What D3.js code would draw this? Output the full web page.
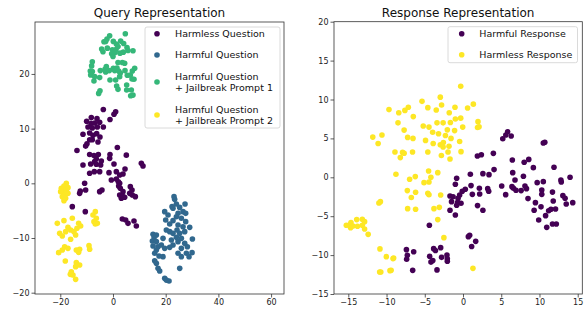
<!DOCTYPE html>
<html><head><meta charset="utf-8">
<script src="https://cdn.jsdelivr.net/npm/d3@7"></script>
<style>body{margin:0;background:#fff}svg{display:block}text{font-family:"DejaVu Sans",sans-serif}</style>
</head><body><svg id="c" width="585" height="309"></svg>
<script>
// ---------- Query Representation data ----------
const qHarmless = [[-3.67,13.5],[1.01,13.07],[0.38,12.64],[-8.23,12.02],[-6.08,11.84],[-10,11.35],[-8.35,10.92],[-6.96,11.04],[-5.06,11.17],[-1.14,11.66],[-9.49,10.31],[-7.85,10.12],[-5.95,10.31],[-3.67,10.31],[-11.39,8.96],[-8.86,9.2],[-7.59,8.77],[-6.2,9.08],[-4.94,8.47],[-7.85,7.98],[-5.7,7.55],[-9.87,7.24],[-8.86,7.98],[-10.38,6.81],[1.65,6.56],[-13.67,6.01],[-8.86,5.28],[-7.22,5.09],[-5.57,5.28],[-1.14,5.28],[5.06,5.15],[-6.33,4.48],[-11.39,3.35],[-8.48,3.54],[-6.96,3.96],[-6.33,3.48],[-4.43,4.09],[-4.68,3.35],[-1.27,4.57],[0.38,3.54],[4.56,2.62],[10.76,3.66],[11.39,3.17],[-8.86,1.83],[-7.09,2.13],[-5.06,2.13],[-1.52,1.95],[1.27,2.13],[2.53,1.52],[3.8,1.71],[-0.63,0.61],[1.27,0.79],[2.03,0.3],[2.53,0],[2.15,-0.49],[-10.76,0],[-10.38,-1.22],[-12.41,-1.4],[-12.66,-1.83],[-5.06,-1.52],[-4.18,-1.22],[2.78,-0.91],[3.8,-1.52],[6.58,-0.61],[7.22,-1.22],[6.33,-1.83],[7.34,-2.13],[8.48,-2.44],[2.53,-2.13],[3.16,-2.74],[3.8,-2.44],[4.43,-2.56],[-15.44,-4.27],[-10.51,-5.18],[3.54,-6.52],[4.81,-6.71],[5.7,-7.32],[7.97,-6.89],[8.86,-7.8]];
const qHarmful = [[23.16,-2.44],[23.4,-2.9],[27.34,-3.78],[24.05,-3.78],[22.41,-4.27],[25.3,-4.4],[19.62,-5.18],[20.89,-5.79],[26.58,-5.18],[27.59,-5.49],[24.7,-5.49],[24.05,-6.1],[20,-6.71],[22.78,-6.83],[25.95,-6.4],[27.59,-7.01],[21.52,-7.44],[24.68,-7.62],[26.58,-7.93],[29.11,-8.05],[24.3,-8.54],[21.52,-8.84],[22.78,-9.15],[25.3,-9.15],[27.22,-8.84],[15.19,-9.33],[16.46,-9.45],[15.6,-9.9],[24.05,-9.88],[25.95,-10.06],[30.13,-10.18],[18.99,-10.06],[22.15,-10.37],[14.94,-10.55],[16.46,-10.67],[24.68,-10.67],[27.22,-10.98],[15.19,-11.46],[17.09,-11.59],[18.35,-11.28],[19.62,-11.89],[22.78,-11.28],[21.52,-11.71],[28.23,-11.59],[16.46,-12.2],[25.95,-11.89],[30,-12.68],[27.85,-12.8],[24.68,-12.8],[25.95,-13.41],[15.82,-12.8],[18.99,-13.41],[17.47,-13.29],[28.86,-13.41],[15.82,-14.15],[16.46,-14.63],[25.32,-15.55],[17.09,-15.55],[17.72,-16.04],[19.62,-17.38],[21.27,-17.87],[20.25,-17.7],[22.78,-4.57],[20.25,-8.54]];
const qJailbreak1 = [[4.68,27.36],[-1.27,26.99],[-2.28,26.38],[-3.42,25.89],[-2.78,25.95],[0.13,25.95],[1.27,25.46],[2.91,26.01],[4.05,25.58],[-4.3,24.54],[-3.8,24.05],[-2.15,24.72],[-0.25,24.42],[1.14,24.48],[1.9,25.03],[5.32,24.85],[5.7,24.29],[7.59,24.23],[-0.51,23.68],[0.76,23.93],[2.66,23.8],[3.92,23.99],[0,23.19],[3.54,22.09],[4.43,21.96],[1.9,22.09],[-7.85,22.21],[-8.1,21.47],[-8.61,20.55],[-8.48,19.82],[-7.85,20.43],[-6.96,19.51],[-5.06,19.33],[-4.81,20.61],[-3.04,20.86],[-2.53,21.35],[-2.78,20.37],[-1.39,20.61],[0.13,21.04],[0.63,20.61],[1.52,21.1],[2.15,20.55],[2.78,20.18],[4.56,20.61],[7.34,20.55],[8.23,21.04],[6.58,19.82],[7.22,19.08],[7.97,19.02],[5.44,19.75],[2.53,19.51],[-1.14,18.9],[1.01,18.9],[1.39,17.79],[1.9,17.18],[5.19,17.98],[5.19,17.06],[6.96,17.06],[7.59,16.13],[6.71,16.01],[-4.94,16.93],[-5.44,16.44],[-7.22,18.71]];
const qJailbreak2 = [[-17.72,0],[-18.61,-0.49],[-19.62,-0.91],[-19.87,-1.52],[-18.99,-1.52],[-17.72,-1.22],[-17.09,-0.79],[-18.35,-2.13],[-19.24,-2.44],[-17.97,-2.74],[-18.61,-3.17],[-17.09,-1.83],[-6.71,-5.18],[-7.59,-5.79],[-6.33,-6.4],[-7.22,-7.01],[-5.95,-7.32],[-6.71,-7.44],[-21.14,-7.32],[-18.61,-6.83],[-15.44,-6.4],[-13.04,-7.32],[-12.28,-7.8],[-13.67,-8.23],[-17.09,-8.05],[-16.08,-8.54],[-17.97,-8.84],[-20.25,-9.15],[-19.24,-9.63],[-14.81,-8.84],[-14.18,-9.45],[-16.08,-10.24],[-18.35,-11.59],[-17.09,-11.89],[-19.24,-12.2],[-20.63,-12.68],[-13.92,-12.2],[-13.04,-12.62],[-12.66,-12.07],[-9.11,-11.4],[-8.86,-12.07],[-18.1,-14.21],[-13.92,-14.51],[-12.66,-14.94],[-14.18,-15.24],[-15.82,-16.16],[-15.19,-16.77],[-14.18,-17.56],[-16.2,-16.65]];

// ---------- Response Representation data ----------
const rHarmful = [[5.84,5.86],[5.6,5.43],[6.3,5.3],[5.2,4.96],[10.7,4.5],[10.5,4.4],[1.88,2.74],[2.4,2.9],[3.97,3.08],[6.45,2.23],[8,1.93],[8.6,2.3],[11.9,1.29],[-0.83,-0.13],[0.96,0.39],[2.6,0.47],[3.4,0.34],[4.06,0.99],[6.5,0.6],[6.8,-0.34],[7.9,0.13],[9.2,1.24],[14,0],[-1,-0.9],[-0.1,-1.8],[0.3,-1.54],[1.05,-1.07],[2.14,-1.41],[5.06,-1.11],[6.4,-1.2],[6.6,-1.4],[6.93,-1.67],[7.6,-1.71],[8.1,-1.11],[8.3,-1.46],[9.7,-0.69],[10.5,-0.56],[10.3,-1.63],[10.3,-2.19],[11.7,-1.9],[12.8,-0.34],[12.85,-0.6],[-1.7,-2.4],[-1.3,-2.5],[-0.44,-2.27],[-0.65,-2.7],[1.22,-2.19],[2.18,-2.14],[3.23,-1.46],[3.36,-1.8],[5.58,-2.23],[8.5,-2.74],[9.47,-3.26],[11.8,-3.04],[13.06,-2.36],[13.35,-2.7],[13.5,-3.43],[14.35,-3.26],[-1.5,-3.13],[-0.7,-3.2],[-0.26,-3.34],[-0.83,-3.6],[-1.7,-4.24],[-1,-4.84],[1.9,-3.64],[2.6,-4.24],[9.3,-4.24],[10.2,-3.8],[11.2,-4.29],[11.5,-4.1],[12.1,-4.07],[10.8,-4.93],[9.9,-5.49],[10.95,-6.43],[11.7,-6],[12.2,-6],[-4.4,-6.17],[0.7,-7.63],[0.87,-7.46],[1.66,-8.23],[1.13,-8.9],[-7.4,-9.3],[-7.28,-10.03],[-7.37,-10.54],[-6.45,-9.56],[-6.58,-11.96],[-3.84,-9.17],[-3.6,-9.4],[-2.92,-9.04],[-4.36,-10.16],[-4.19,-10.9],[-3.95,-10.7],[-2.8,-10.29],[-2.1,-9.99],[-2.05,-10.46],[-2.05,-10.8],[-3.4,-11.9]];
const rHarmless = [[-0.3,11.7],[-5.36,9.76],[-2.97,10.3],[-2.8,9.3],[-9.68,8.7],[-8.4,8.3],[-7.6,8.6],[-7.15,9],[-6.5,7.8],[-4.6,8.95],[-3.5,8.65],[-1.8,8.3],[-1.05,9],[0.6,8.9],[1.35,9.4],[-8.5,7],[-5.2,6.6],[-4.45,6.45],[-3.4,7],[-2.6,7],[-1.65,7.05],[-1,7.5],[-0.3,7.6],[1.96,7.15],[1.9,6.4],[2.1,6.5],[-7.7,6.07],[-3.97,5.8],[-3.2,5.6],[-2.05,6.1],[-1.1,6],[-0.04,6.45],[-11.8,5.17],[-10.6,5.43],[-11.1,4.35],[-7.24,5.13],[-6.54,5],[-4.9,4.74],[-3.9,4.35],[-2.97,4.18],[-2.57,4.48],[-2.3,5.38],[-1.57,5],[-0.44,4.6],[-1.83,4],[-2.6,3.9],[-8.9,3.26],[-8.2,2.53],[-7.9,3.2],[-7.7,3.1],[-6.6,3.26],[-4.6,3.26],[-2.83,2.8],[-1.96,3.26],[-1.7,2.36],[-0.26,3.3],[-8.77,0.39],[-6.98,-0.26],[-6.24,0.09],[-5.1,-0.69],[-4.5,0.81],[-4.2,0],[-4.45,-0.6],[-3.3,0.6],[-7.28,-1.71],[-6.2,-1.93],[-6.76,-2.6],[-4.6,-2.06],[-4.45,-2.25],[-2.92,-2.27],[-11,-3.3],[-10.8,-3.13],[-7.24,-4.03],[-6.2,-4.1],[-3.8,-4.03],[-3.1,-3.86],[-3.3,-5.44],[-15.26,-6.17],[-14.8,-6.1],[-14.65,-5.83],[-14.7,-6.47],[-14.4,-6.26],[-13.9,-5.44],[-13.8,-6.3],[-13.17,-5.4],[-12.87,-5.7],[-13.17,-6.17],[-12.87,-6.64],[-12.4,-7.33],[-10.86,-9.2],[-10.03,-10.2],[-9.07,-10.37],[-9.15,-10.45],[-10.9,-12.17],[-10.75,-12.17],[-9.55,-12],[-9.4,-11.95],[-2.5,-7.76],[1.3,-11.7]];

const qNames = ["Harmless Question","Harmful Question","Harmful Question\n+ Jailbreak Prompt 1","Harmful Question\n+ Jailbreak Prompt 2"];
const rNames = ["Harmful Response","Harmless Response"];
const qColors = ["#440154","#31688e","#35b779","#fde725"];
const rColors = ["#440154","#fde725"];
const qXTicks = [-20,0,20,40,60], qYTicks = [-20,-10,0,10,20];
const rXTicks = [-15,-10,-5,0,5,10,15], rYTicks = [-15,-10,-5,0,5,10,15,20];

const svg = d3.select("#c");
const fmt = d => d < 0 ? "\u2212" + Math.abs(d) : String(d);

function panel(o){
  const g = svg.append("g");
  const x = d3.scaleLinear().domain(o.xd).range([o.l, o.r]);
  const y = d3.scaleLinear().domain(o.yd).range([o.b, o.t]);
  o.series.forEach((s,i)=>{
    g.append("g").selectAll("circle").data(s).join("circle")
      .attr("cx", d=>x(d[0])).attr("cy", d=>y(d[1])).attr("r", 2.8)
      .attr("fill", o.colors[i]);
  });
  const ax = g.append("g").attr("transform",`translate(0,${o.b})`)
    .call(d3.axisBottom(x).tickValues(o.xt).tickFormat(fmt).tickSize(3.5).tickPadding(2));
  const ay = g.append("g").attr("transform",`translate(${o.l},0)`)
    .call(d3.axisLeft(y).tickValues(o.yt).tickFormat(fmt).tickSize(3.5).tickPadding(2));
  [ax,ay].forEach(a=>{a.select(".domain").remove();
    a.selectAll("line").attr("stroke","#333").attr("stroke-width",0.8);
    a.selectAll("text").attr("font-size",8).attr("fill","#222").attr("font-family","DejaVu Sans");});
  g.append("rect").attr("x",o.l).attr("y",o.t).attr("width",o.r-o.l).attr("height",o.b-o.t)
    .attr("fill","none").attr("stroke","#333").attr("stroke-width",0.8);
  g.append("text").attr("x",(o.l+o.r)/2).attr("y",o.t-5).attr("text-anchor","middle")
    .attr("font-size",12).attr("fill","#111").text(o.title);
  // legend
  const L = o.leg;
  g.append("rect").attr("x",L.x).attr("y",L.y).attr("width",L.w).attr("height",L.h)
    .attr("rx",2).attr("fill","#fff").attr("fill-opacity",0.85).attr("stroke","#d0d0d0").attr("stroke-width",0.8);
  o.names.forEach((n,i)=>{
    const lines = n.split("\n");
    const cy = L.rows[i];
    g.append("circle").attr("cx",L.mx).attr("cy",cy).attr("r",2.8).attr("fill",o.colors[i]);
    const t = g.append("text").attr("x",L.tx).attr("font-size",9.5).attr("fill","#111");
    const off = (lines.length-1)*11.4/2;
    lines.forEach((ln,k)=>t.append("tspan").attr("x",L.tx).attr("y",cy-off+k*11.4+3.4).text(ln));
  });
}

panel({l:35,r:284,t:22,b:294,xd:[-29.6,64.9],yd:[-20.24,29.5],xt:qXTicks,yt:qYTicks,
  series:[qHarmless,qHarmful,qJailbreak1,qJailbreak2],colors:qColors,names:qNames,title:"Query Representation",
  leg:{x:145,y:27,w:135,h:101,mx:157,tx:175,rows:[33.7,55,82,115]}});
panel({l:334,r:582.3,t:21.7,b:294,xd:[-16.87,15.6],yd:[-15,20],xt:rXTicks,yt:rYTicks,
  series:[rHarmful,rHarmless],colors:rColors,names:rNames,title:"Response Representation",
  leg:{x:448,y:26.7,w:129.5,h:36,mx:461.7,tx:479.3,rows:[33.7,54.7]}});
</script></body></html>
